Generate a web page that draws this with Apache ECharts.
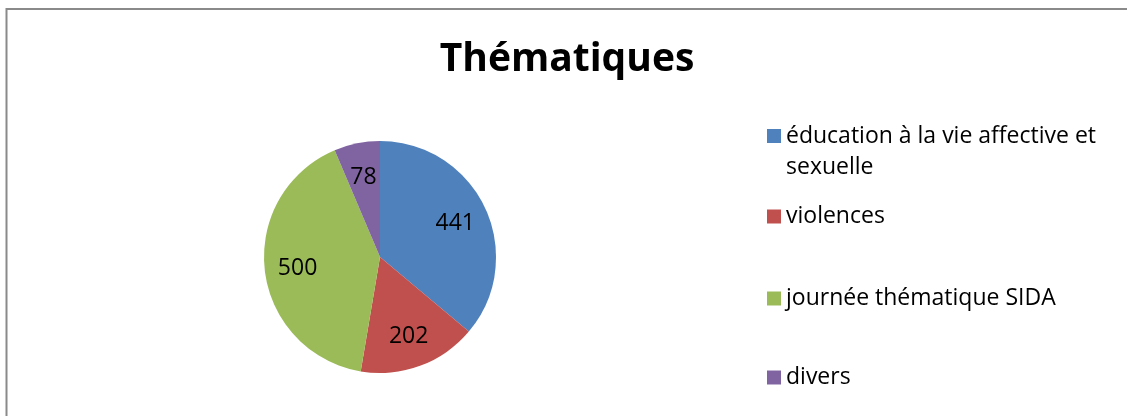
<!DOCTYPE html>
<html><head><meta charset="utf-8">
<script src="https://cdn.jsdelivr.net/npm/echarts@6/dist/echarts.min.js"></script>
<style>html,body{margin:0;padding:0;background:#fff;overflow:hidden}#c{width:1127px;height:416px}</style>
</head><body><div id="c"></div>
<script>
const title = 'Thématiques';
const categories = ['éducation à la vie affective et sexuelle', 'violences', 'journée thématique SIDA', 'divers'];
const legendLabels = ['\néducation à la vie affective et\nsexuelle', 'violences', 'journée thématique SIDA', 'divers'];
const values = [441, 202, 500, 78];
const colors = ['#4F81BD', '#C0504D', '#9BBB59', '#8064A2'];

const FONT = 'Open Sans';
const data = categories.map((n, i) => ({ name: n, value: values[i], itemStyle: { color: colors[i] } }));
const legendTops = [89.5, 201, 283, 362];
const legends = categories.map((n, i) => ({
  orient: 'vertical', left: 767, top: legendTops[i], padding: 0,
  itemWidth: 14, itemHeight: 14, icon: 'rect', itemGap: 0,
  data: [n], selectedMode: false,
  formatter: () => legendLabels[i],
  textStyle: { fontFamily: FONT, fontSize: 23, color: '#000', lineHeight: 31 }
}));
const chart = echarts.init(document.getElementById('c'), null, { renderer: 'canvas' });
chart.setOption({
  animation: false,
  title: { text: title, left: 567, top: 40, textAlign: 'center', padding: 0,
    textStyle: { fontFamily: FONT, fontWeight: 'bold', fontSize: 39, color: '#000' } },
  legend: legends,
  graphic: [{ type: 'polyline', shape: { points: [[6.5, 500], [6.5, 9], [1200, 9]] },
    style: { fill: null, stroke: '#8a8a8a', lineWidth: 2 }, silent: true }],
  series: [
    { type: 'pie', center: [380, 257], radius: [0, 116], startAngle: 90, clockwise: true,
      data: data, label: { show: false }, labelLine: { show: false }, silent: true,
      itemStyle: { borderWidth: 0 } },
    { type: 'pie', center: [380, 259], radius: [44, 116], startAngle: 90, clockwise: true,
      data: data.map(d => ({ name: d.name, value: d.value, itemStyle: { color: 'rgba(0,0,0,0)' } })),
      silent: true, legendHoverLink: false,
      label: { show: true, position: 'inside', formatter: '{c}', fontFamily: FONT, fontSize: 23, color: '#000' },
      labelLine: { show: false } }
  ]
});
</script></body></html>
